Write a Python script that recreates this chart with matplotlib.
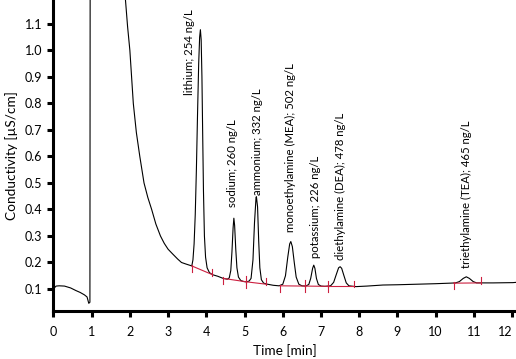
import matplotlib
matplotlib.use("Agg")
import matplotlib.pyplot as plt

plt.rcParams['font.family'] = ['Lato', 'DejaVu Sans']

# Chromatogram trace (time in min, conductivity in µS/cm)
trace_time = [0.0, 0.03, 0.07, 0.15, 0.29, 0.45, 0.59, 0.70, 0.81, 0.88, 0.925, 0.955,
              0.965, 0.975, 1.5, 1.84, 1.885, 1.94, 2.0, 2.09, 2.17, 2.26, 2.37, 2.47,
              2.57, 2.68, 2.8, 2.9, 3.0, 3.12, 3.25, 3.35, 3.47, 3.62,
              3.65, 3.68, 3.71, 3.74, 3.77, 3.80, 3.825, 3.845, 3.865, 3.885, 3.905,
              3.925, 3.95, 3.98, 4.02, 4.08, 4.16, 4.3, 4.44,
              4.55, 4.6, 4.64, 4.67, 4.70, 4.72, 4.74, 4.77, 4.80, 4.84, 4.9, 4.98,
              5.05, 5.12, 5.17, 5.22, 5.26, 5.30, 5.31, 5.34, 5.37, 5.40, 5.44, 5.5,
              5.6, 5.75, 5.9, 6.0, 6.07, 6.13, 6.18, 6.21, 6.25, 6.3, 6.35, 6.42,
              6.5, 6.6, 6.68, 6.73, 6.78, 6.81, 6.84, 6.88, 6.93, 7.0, 7.1, 7.25,
              7.33, 7.4, 7.46, 7.5, 7.54, 7.6, 7.66, 7.73, 7.85, 7.92, 8.2, 8.62,
              9.0, 9.5, 10.0, 10.37, 10.52, 10.62, 10.72, 10.8, 10.88, 10.98, 11.07,
              11.5, 12.02, 12.1]
trace_value = [0.096, 0.105, 0.111, 0.112, 0.111, 0.104, 0.094, 0.087, 0.078, 0.070, 0.046, 0.050,
               2.0, 3.0, 3.0, 1.35, 1.19, 1.09, 1.0, 0.80, 0.69, 0.60, 0.50, 0.445,
               0.40, 0.345, 0.30, 0.272, 0.25, 0.232, 0.213, 0.20, 0.194, 0.187,
               0.21, 0.27, 0.38, 0.55, 0.76, 0.95, 1.05, 1.078, 1.04, 0.90, 0.68,
               0.47, 0.30, 0.22, 0.18, 0.162, 0.154, 0.148, 0.140,
               0.137, 0.142, 0.17, 0.24, 0.33, 0.367, 0.34, 0.25, 0.18, 0.145, 0.132, 0.128,
               0.127, 0.130, 0.140, 0.21, 0.35, 0.445, 0.448, 0.41, 0.28, 0.18, 0.135, 0.122,
               0.118, 0.114, 0.112, 0.118, 0.15, 0.22, 0.27, 0.279, 0.26, 0.20, 0.145, 0.118,
               0.112, 0.111, 0.117, 0.14, 0.178, 0.19, 0.178, 0.14, 0.117, 0.111, 0.110, 0.112,
               0.125, 0.155, 0.18, 0.184, 0.178, 0.15, 0.123, 0.112, 0.110, 0.109, 0.111, 0.115,
               0.116, 0.118, 0.120, 0.122, 0.123, 0.128, 0.14, 0.146, 0.14, 0.128, 0.123,
               0.123, 0.124, 0.125]

# Peak labels
peak_labels = ["lithium; 254 ng/L", "sodium; 260 ng/L", "ammonium; 332 ng/L",
               "monoethylamine (MEA); 502 ng/L", "potassium; 226 ng/L",
               "diethylamine (DEA); 478 ng/L", "triethylamine (TEA); 465 ng/L"]
label_time = [3.56, 4.68, 5.34, 6.2, 6.85, 7.5, 10.8]
label_value = [0.832, 0.41, 0.455, 0.315, 0.217, 0.21, 0.18]

# Integration baselines (start/end time and value)
base_start_t = [3.62, 4.44, 5.05, 5.93, 6.58, 7.19, 10.47]
base_start_v = [0.187, 0.140, 0.127, 0.112, 0.111, 0.110, 0.122]
base_end_t = [4.16, 5.05, 5.57, 6.58, 7.19, 7.85, 11.18]
base_end_v = [0.154, 0.127, 0.118, 0.111, 0.110, 0.110, 0.123]

x_ticks = list(range(0, 13))
y_ticks = [0.1, 0.2, 0.3, 0.4, 0.5, 0.6, 0.7, 0.8, 0.9, 1.0, 1.1]

fig = plt.figure(figsize=(5.16, 3.59), dpi=100)
ax = fig.add_axes([0.1035, 0.1337, 0.8965, 0.8663])

ax.plot(trace_time, trace_value, color='black', lw=0.8, zorder=2)

red = '#cc2040'
for st, sv, et, ev in zip(base_start_t, base_start_v, base_end_t, base_end_v):
    ax.plot([st, et], [sv, ev], color=red, lw=0.8, zorder=3)
    ax.plot([st, st], [sv - 0.022, sv + 0.004], color=red, lw=0.8, zorder=3)
    ax.plot([et, et], [ev - 0.004, ev + 0.022], color=red, lw=0.8, zorder=3)

for lbl, lx, ly in zip(peak_labels, label_time, label_value):
    ax.text(lx, ly, lbl, rotation=90, ha='center', va='bottom', fontsize=8.2,
            color='black')

ax.set_xlim(0, 12.1)
ax.set_ylim(0.017, 1.19)
ax.set_xticks(x_ticks)
ax.set_yticks(y_ticks)
ax.set_yticklabels([f"{v:.1f}" for v in y_ticks])
xt = ax.set_xticklabels([str(v) for v in x_ticks])
xt[-1].set_horizontalalignment('right')
for s in ['top', 'right']:
    ax.spines[s].set_visible(False)
for s in ['left', 'bottom']:
    ax.spines[s].set_linewidth(2.2)
ax.tick_params(axis='both', direction='out', length=4, width=2.2, labelsize=9, pad=4)
ax.tick_params(axis='x', pad=7)
ax.set_xlabel("Time [min]", fontsize=9.8, labelpad=4)
ax.set_ylabel("Conductivity [µS/cm]", fontsize=9.8, labelpad=5)

fig.savefig("out.png", dpi=100)
